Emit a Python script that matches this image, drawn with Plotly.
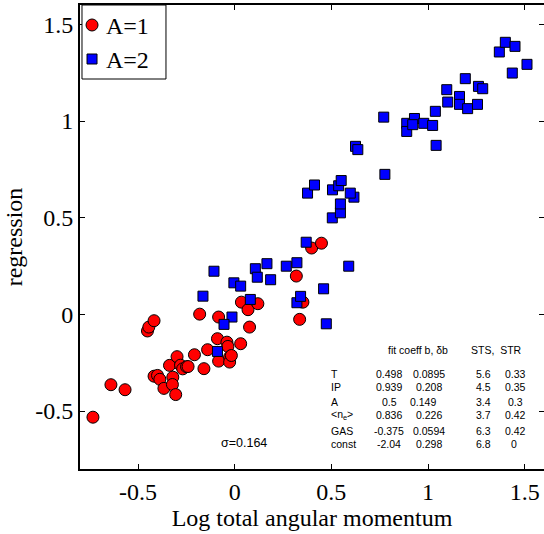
import plotly.graph_objects as go

# ---- data ----
red_x = [-0.733, -0.640, -0.567, -0.451, -0.444, -0.417, -0.417, -0.399, -0.387, -0.366,
         -0.337, -0.320, -0.322, -0.305, -0.298, -0.280, -0.269, -0.249, -0.241, -0.208,
         -0.181, -0.159, -0.140, -0.089, -0.083, -0.083, -0.040, -0.035, -0.026, -0.026,
         -0.017, 0.031, 0.035, 0.069, 0.077, 0.120, 0.319, 0.336, 0.353, 0.398, 0.449]
red_y = [-0.532, -0.364, -0.390, -0.086, -0.066, -0.033, -0.320, -0.316, -0.336, -0.383,
         -0.264, -0.325, -0.363, -0.415, -0.219, -0.263, -0.282, -0.271, -0.270, -0.209,
         0.001, -0.281, -0.183, -0.126, -0.014, -0.242, -0.144, -0.166, -0.221, -0.247,
         -0.213, -0.152, 0.063, 0.024, -0.066, 0.055, 0.198, -0.026, 0.063, 0.343, 0.368]

blue_x = [-0.164, -0.107, -0.004, 0.031, 0.107, 0.117, 0.167, 0.186, 0.267, 0.322,
          0.370, 0.081, -0.014, -0.055, -0.089, 0.322, 0.341, 0.460, 0.474, 0.590,
          0.505, 0.547, 0.547, 0.617, 0.598, 0.506, 0.538, 0.551, 0.377, 0.413,
          0.625, 0.637, 0.777, 0.771, 0.890, 0.890, 0.930, 0.921, 0.978, 1.024,
          1.042, 1.038, 1.102, 1.097, 1.163, 1.163, 1.205, 1.256, 1.193, 1.261,
          1.283, 1.369, 1.400, 1.450, 1.436, 1.512]
blue_y = [0.094, 0.223, 0.163, 0.146, 0.236, 0.192, 0.262, 0.179, 0.249, 0.267,
          0.373, 0.077, -0.014, -0.052, -0.192, 0.060, 0.093, 0.132, -0.049, 0.249,
          0.499, 0.525, 0.571, 0.606, 0.627, 0.644, 0.665, 0.692, 0.627, 0.669,
          0.869, 0.852, 0.724, 1.020, 0.988, 0.946, 1.013, 0.981, 0.988, 0.977,
          0.874, 1.050, 1.098, 1.162, 1.127, 1.086, 1.064, 1.086, 1.219, 1.179,
          1.167, 1.357, 1.407, 1.386, 1.248, 1.293]

series_names = ["A=1", "A=2"]
tick_vals = [-0.5, 0, 0.5, 1, 1.5]
tick_text = ["-0.5", "0", "0.5", "1", "1.5"]

row_labels = ["T", "IP", "A", "&lt;n<sub>e</sub>&gt;", "GAS", "const"]
fit_b = ["0.498", "0.939", "0.5", "0.836", "-0.375", "-2.04"]
fit_db = ["0.0895", "0.208", "0.149", "0.226", "0.0594", "0.298"]
sts = ["5.6", "4.5", "3.4", "3.7", "6.3", "6.8"]
strv = ["0.33", "0.35", "0.3", "0.42", "0.42", "0"]
header_fit = "fit coeff b, δb"
header_sts = "STS,  STR"
sigma_text = "σ=0.164"

# ---- figure ----
serif = "Liberation Serif, Times New Roman, serif"
sans = "Liberation Sans, Arial, sans-serif"
RED = "#ff0000"
BLUE = "#0000ff"

fig = go.Figure()
fig.add_trace(go.Scatter(
    x=red_x, y=red_y, mode="markers", name=series_names[0], showlegend=False,
    marker=dict(symbol="circle", size=12, color=RED,
                line=dict(color="black", width=1))))
fig.add_trace(go.Scatter(
    x=blue_x, y=blue_y, mode="markers", name=series_names[1], showlegend=False,
    marker=dict(symbol="square", size=10, color=BLUE,
                line=dict(color="black", width=1))))
# empty trace so that the right-hand tick axis is always drawn
fig.add_trace(go.Scatter(x=[], y=[], yaxis="y2", showlegend=False,
                         hoverinfo="skip"))

tick_common = dict(
    tickvals=tick_vals, ticktext=tick_text, ticks="inside", ticklen=5,
    tickwidth=1, tickcolor="black", showgrid=False, zeroline=False,
    tickfont=dict(family=serif, size=24, color="black"),
)

fig.update_layout(
    width=544, height=534,
    margin=dict(l=80, r=0, t=5, b=65),
    paper_bgcolor="white", plot_bgcolor="white",
    xaxis=dict(range=[-0.8, 1.6], showline=True, linecolor="black",
               linewidth=2, mirror="ticks",
               title=dict(text="Log total angular momentum",
                          font=dict(family=serif, size=24, color="black"),
                          standoff=4),
               **tick_common),
    yaxis=dict(range=[-0.8, 1.6], showline=True, linecolor="black",
               linewidth=2, mirror=False,
               title=dict(text="regression",
                          font=dict(family=serif, size=24, color="black"),
                          standoff=6),
               **tick_common),
    # right-hand ticks only (the right frame line falls just outside the picture)
    yaxis2=dict(range=[-0.8, 1.6], overlaying="y", side="right", anchor="x",
                showline=False, showticklabels=False, automargin=False,
                **tick_common),
    showlegend=False,
)

# ---- legend box (drawn like the MATLAB legend) ----
shapes = [
    dict(type="rect", xref="paper", yref="paper", x0=0.0043, x1=0.1853,
         y0=0.8405, y1=1.0, line=dict(color="black", width=1),
         fillcolor="white", layer="above"),
    dict(type="circle", xref="paper", yref="paper", xsizemode="pixel",
         ysizemode="pixel", xanchor=0.0259, yanchor=0.9569,
         x0=-6, x1=6, y0=-6, y1=6, fillcolor=RED,
         line=dict(color="black", width=1), layer="above"),
    dict(type="rect", xref="paper", yref="paper", xsizemode="pixel",
         ysizemode="pixel", xanchor=0.0259, yanchor=0.8836,
         x0=-5, x1=5, y0=-5, y1=5, fillcolor=BLUE,
         line=dict(color="black", width=1), layer="above"),
]
fig.update_layout(shapes=shapes)

ann = []
ann.append(dict(x=0.0517, y=0.9547, xref="paper", yref="paper",
                text=series_names[0], xanchor="left", yanchor="middle",
                showarrow=False, font=dict(family=serif, size=24, color="black")))
ann.append(dict(x=0.0517, y=0.8815, xref="paper", yref="paper",
                text=series_names[1], xanchor="left", yanchor="middle",
                showarrow=False, font=dict(family=serif, size=24, color="black")))

tab = []
tab.append(dict(x=0.95, y=-0.182, text=header_fit))
tab.append(dict(x=1.356, y=-0.182, text=header_sts))
row_y = [-0.307, -0.378, -0.451, -0.523, -0.601, -0.673]
for i, yv in enumerate(row_y):
    tab.append(dict(x=0.49, y=yv, text=row_labels[i], xanchor="left"))
    tab.append(dict(x=0.80, y=yv, text=fit_b[i]))
    tab.append(dict(x=1.007 if i != 2 else 0.975, y=yv, text=fit_db[i]))
    tab.append(dict(x=1.286, y=yv, text=sts[i]))
    tab.append(dict(x=1.451 if i < 5 else 1.445, y=yv, text=strv[i]))
for a in tab:
    a.setdefault("xanchor", "center")
    a.update(xref="x", yref="y", showarrow=False, yanchor="middle",
             font=dict(family=sans, size=10.5, color="black"))
ann.extend(tab)
ann.append(dict(x=0.046, y=-0.663, text=sigma_text, xref="x", yref="y",
                showarrow=False, xanchor="center", yanchor="middle",
                font=dict(family=sans, size=12.5, color="black")))
fig.update_layout(annotations=ann)

fig.write_html("out.html")
